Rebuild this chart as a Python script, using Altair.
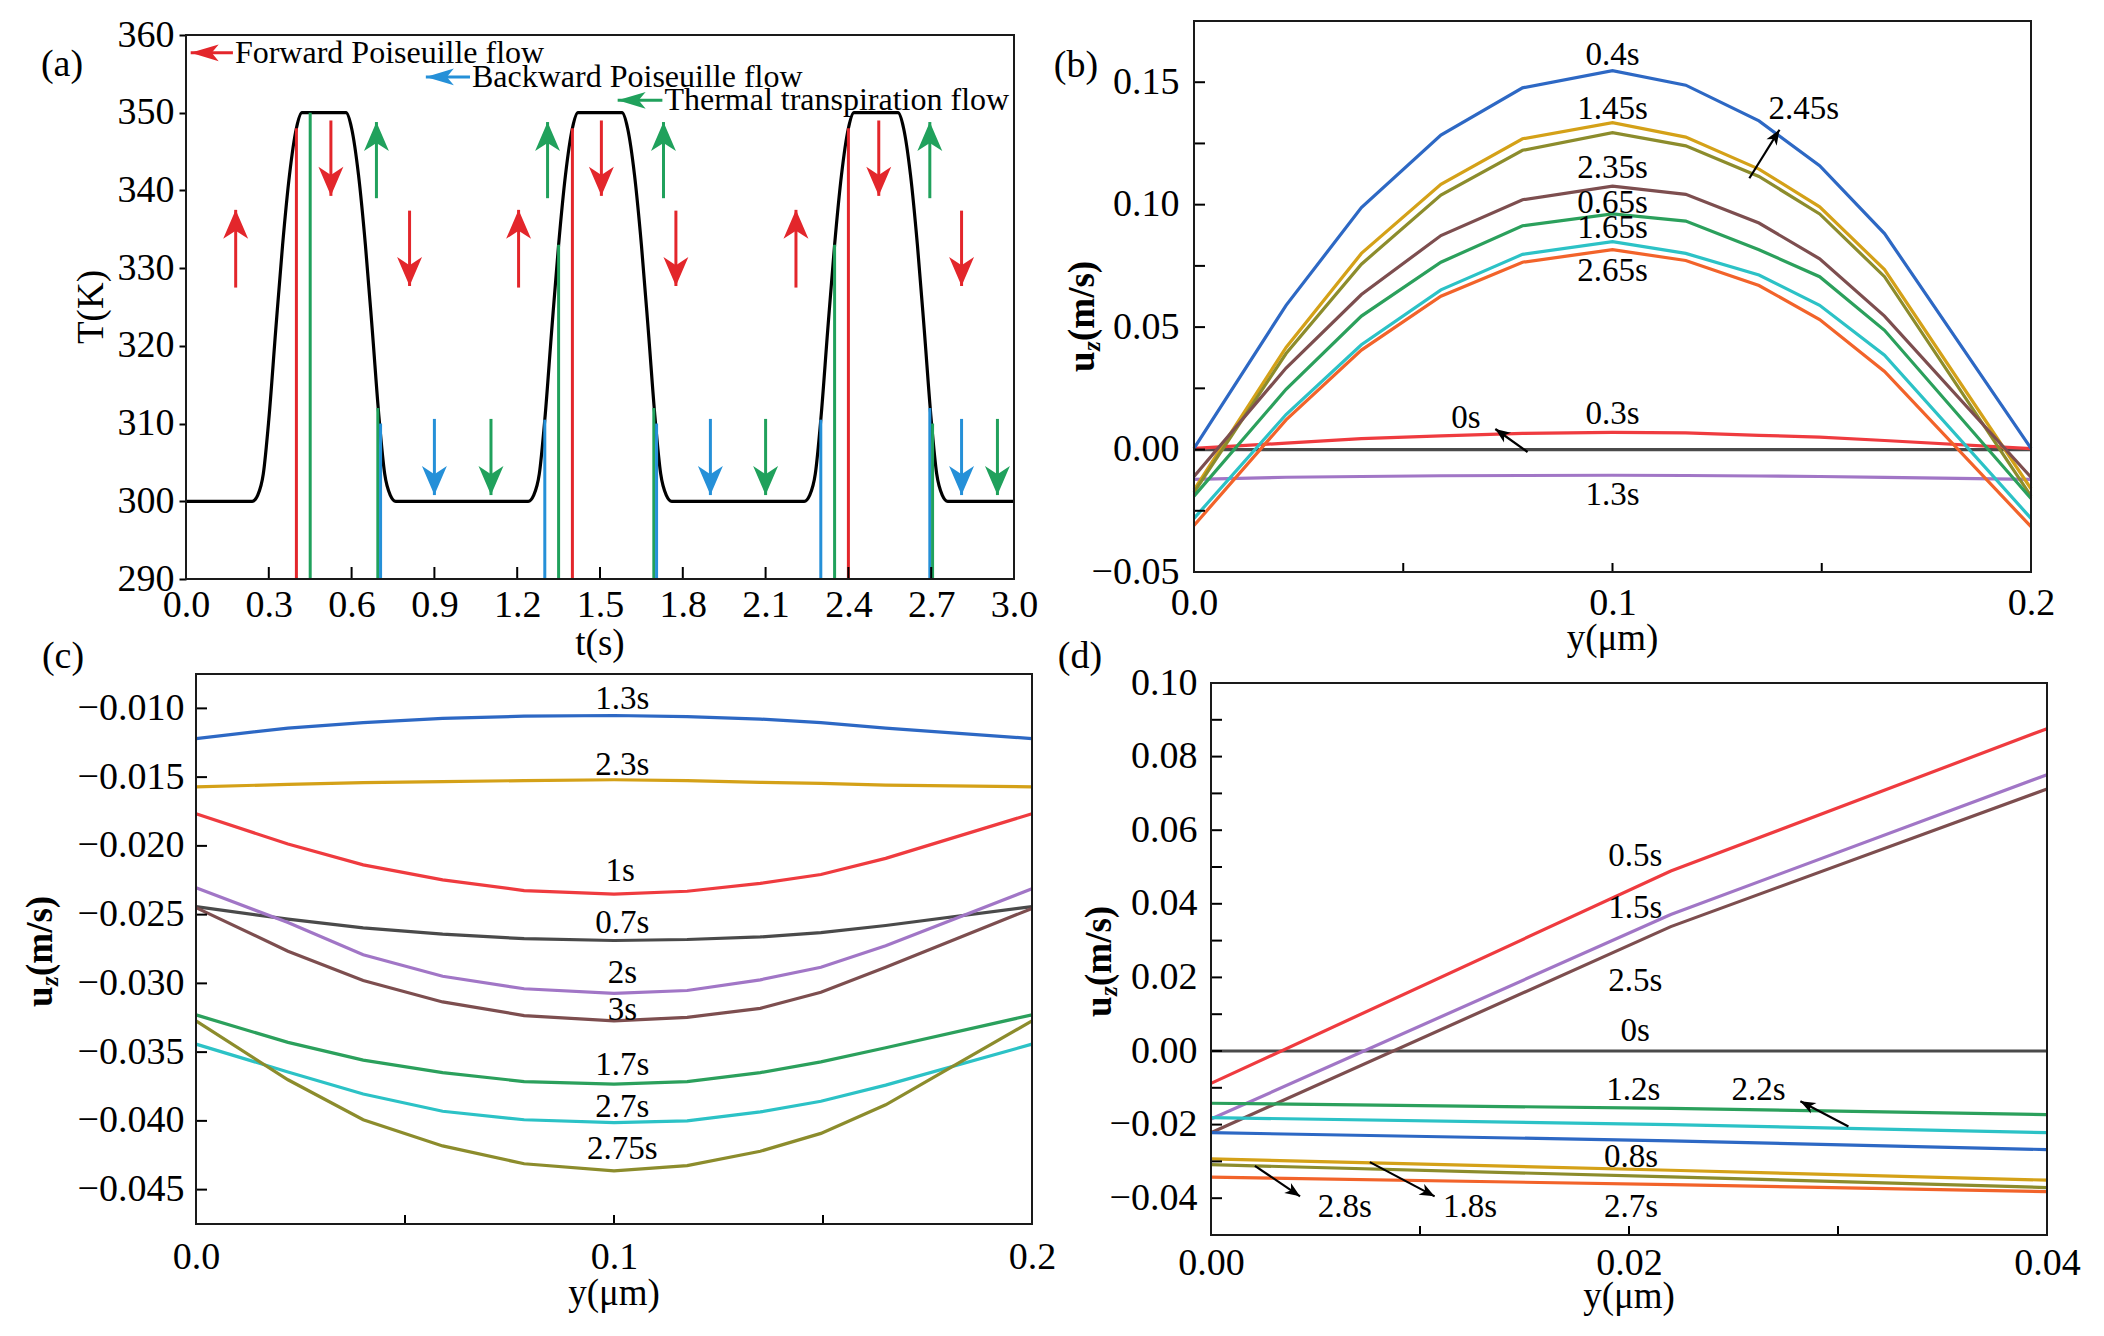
import math
import altair as alt
import pandas as pd

FONT = "Liberation Serif"
TICK_SIZE = 38
TITLE_SIZE = 37
LABEL_SIZE = 33
LEGEND_SIZE = 32

RED = "#e3262b"
BLUE = "#2590d8"
GREEN = "#20a15c"

C_BLACK = "#4a4a4a"
C_RED = "#ef3b3f"
C_BLUE = "#2d68c4"
C_GOLD = "#d4a118"
C_OLIVE = "#8c8c2c"
C_BROWN = "#7d4e4f"
C_GREEN = "#2ba05c"
C_CYAN = "#2cc2c6"
C_ORANGE = "#f2632a"
C_PURPLE = "#a176c6"

# ---------------- (a) wall temperature over three cycles ----------------
A_XTICKS = [0.0, 0.3, 0.6, 0.9, 1.2, 1.5, 1.8, 2.1, 2.4, 2.7, 3.0]
A_YTICKS = [290, 300, 310, 320, 330, 340, 350, 360]

T_TIME = [
    0.00, 0.24, 0.26, 0.28, 0.30, 0.325, 0.35, 0.375, 0.40, 0.42,
    0.58, 0.60, 0.625, 0.65, 0.675, 0.70, 0.72, 0.74, 0.76,
    1.24, 1.26, 1.28, 1.30, 1.325, 1.35, 1.375, 1.40, 1.42,
    1.58, 1.60, 1.625, 1.65, 1.675, 1.70, 1.72, 1.74, 1.76,
    2.24, 2.26, 2.28, 2.30, 2.325, 2.35, 2.375, 2.40, 2.42,
    2.58, 2.60, 2.625, 2.65, 2.675, 2.70, 2.72, 2.74, 2.76,
    3.00,
]
T_KELVIN = [
    300, 300, 300.8, 303.5, 310.5, 322, 333, 342, 348, 350,
    350, 348, 342, 333, 322, 310.5, 303.5, 300.8, 300,
    300, 300.8, 303.5, 310.5, 322, 333, 342, 348, 350,
    350, 348, 342, 333, 322, 310.5, 303.5, 300.8, 300,
    300, 300.8, 303.5, 310.5, 322, 333, 342, 348, 350,
    350, 348, 342, 333, 322, 310.5, 303.5, 300.8, 300,
    300,
]

# sampling instants marked by vertical lines
MARK_TIME = [0.40, 0.45, 0.695, 0.705, 1.30, 1.35, 1.40, 1.695, 1.705,
             2.30, 2.35, 2.40, 2.695, 2.705]
MARK_FLOW = ["forward", "thermal", "thermal", "backward", "backward", "thermal",
             "forward", "thermal", "backward", "backward", "thermal", "forward",
             "backward", "thermal"]
MARK_TOP = [348, 350, 312, 310, 310.5, 333, 348, 312, 310, 310.5, 333, 348, 312, 310]

# flow-direction arrows
ARROW_TIME = [0.18, 1.205, 2.21, 0.525, 1.505, 2.51, 0.81, 1.775, 2.81,
              0.69, 1.31, 1.73, 2.695, 0.90, 1.90, 2.81, 1.105, 2.10, 2.94]
ARROW_FLOW = ["forward", "forward", "forward", "forward", "forward", "forward",
              "forward", "forward", "forward", "thermal", "thermal", "thermal",
              "thermal", "backward", "backward", "backward", "thermal", "thermal",
              "thermal"]
ARROW_TAIL = [327.5, 327.5, 327.5, 349.0, 349.0, 349.0, 337.4, 337.4, 337.4,
              339.0, 339.0, 339.0, 339.0, 310.6, 310.6, 310.6, 310.6, 310.6, 310.6]
ARROW_TIP = [337.5, 337.5, 337.5, 339.3, 339.3, 339.3, 327.7, 327.7, 327.7,
             348.8, 348.8, 348.8, 348.8, 300.8, 300.8, 300.8, 300.8, 300.8, 300.8]

LEGEND_TEXT = ["Forward Poiseuille flow", "Backward Poiseuille flow",
               "Thermal transpiration flow"]
LEGEND_FLOW = ["forward", "backward", "thermal"]
LEGEND_TIP = [0.017, 0.869, 1.564]
LEGEND_TAIL = [0.17, 1.029, 1.726]
LEGEND_T = [357.7, 354.6, 351.6]

# ---------------- (b) velocity profiles, heating phases ----------------
B_NODES = [0.0, 0.022, 0.040, 0.059, 0.0785, 0.1, 0.1175, 0.135, 0.1495, 0.165, 0.2]
B_SERIES = ["0s", "0.3s", "1.3s", "0.4s", "1.45s", "2.45s", "2.35s", "0.65s", "1.65s", "2.65s"]
B_COLORS = [C_BLACK, C_RED, C_PURPLE, C_BLUE, C_GOLD, C_OLIVE, C_BROWN, C_GREEN, C_CYAN, C_ORANGE]
B_U_0S = [0.0, 0.0, 0.0, 0.0, 0.0, 0.0, 0.0, 0.0, 0.0, 0.0, 0.0]
B_U_03S = [0.0005, 0.0026, 0.0045, 0.0056, 0.0066, 0.0070, 0.0068, 0.0058, 0.0051, 0.0037, 0.0004]
B_U_13S = [-0.0122, -0.0113, -0.0110, -0.0107, -0.0106, -0.0105, -0.0106, -0.0108, -0.0110, -0.0114, -0.0122]
B_U_04S = [0.0005, 0.0589, 0.0988, 0.1284, 0.1477, 0.1547, 0.1488, 0.1342, 0.1159, 0.0882, 0.0005]
B_U_145S = [-0.0165, 0.0417, 0.0801, 0.1083, 0.1269, 0.1335, 0.1276, 0.1145, 0.0991, 0.0735, -0.0160]
B_U_245S = [-0.0175, 0.0392, 0.0757, 0.1039, 0.1222, 0.1294, 0.1240, 0.1115, 0.0962, 0.0706, -0.0190]
B_U_235S = [-0.0110, 0.0333, 0.0633, 0.0874, 0.1020, 0.1076, 0.1042, 0.0925, 0.0779, 0.0545, -0.0113]
B_U_065S = [-0.0190, 0.0246, 0.0545, 0.0765, 0.0914, 0.0962, 0.0933, 0.0816, 0.0706, 0.0487, -0.0200]
B_U_165S = [-0.0281, 0.0143, 0.0428, 0.0652, 0.0797, 0.0849, 0.0801, 0.0713, 0.0589, 0.0385, -0.0281]
B_U_265S = [-0.0310, 0.0121, 0.0406, 0.0626, 0.0765, 0.0816, 0.0772, 0.0670, 0.0531, 0.0319, -0.0315]
B_PROFILES = [B_U_0S, B_U_03S, B_U_13S, B_U_04S, B_U_145S, B_U_245S, B_U_235S, B_U_065S, B_U_165S, B_U_265S]

B_LABEL = ["0.4s", "1.45s", "2.45s", "2.35s", "0.65s", "1.65s", "2.65s", "0.3s", "0s", "1.3s"]
B_LABEL_X = [0.1, 0.1, 0.1457, 0.1, 0.1, 0.1, 0.1, 0.1, 0.065, 0.1]
B_LABEL_Y = [0.161, 0.139, 0.139, 0.115, 0.1007, 0.0905, 0.0729, 0.0144, 0.0127, -0.0184]
B_PTR_TAIL_X = [0.0797, 0.1327]
B_PTR_TAIL_Y = [-0.001, 0.1108]
B_PTR_TIP_X = [0.072, 0.1399]
B_PTR_TIP_Y = [0.0084, 0.1306]

# ---------------- (c) velocity profiles, cooling phases ----------------
C_NODES = [0.0, 0.022, 0.040, 0.059, 0.0785, 0.1, 0.1175, 0.135, 0.1495, 0.165, 0.2]
C_SERIES = ["0.7s", "1.3s", "2.3s", "1s", "2s", "3s", "1.7s", "2.7s", "2.75s"]
C_COLORS = [C_BLACK, C_BLUE, C_GOLD, C_RED, C_PURPLE, C_BROWN, C_GREEN, C_CYAN, C_OLIVE]
C_U_07S = [-0.02442, -0.02533, -0.02597, -0.02642, -0.02675, -0.02688, -0.02681, -0.02662, -0.02631, -0.02579, -0.02442]
C_U_13S = [-0.01220, -0.01143, -0.01104, -0.01073, -0.01057, -0.01052, -0.01060, -0.01078, -0.01104, -0.01143, -0.01220]
C_U_23S = [-0.01571, -0.01553, -0.01540, -0.01533, -0.01525, -0.01519, -0.01525, -0.01538, -0.01545, -0.01558, -0.01571]
C_U_1S = [-0.01766, -0.01987, -0.02138, -0.02247, -0.02325, -0.02351, -0.02330, -0.02273, -0.02208, -0.02091, -0.01766]
C_U_2S = [-0.02304, -0.02558, -0.02792, -0.02948, -0.03039, -0.03073, -0.03052, -0.02974, -0.02883, -0.02727, -0.02312]
C_U_3S = [-0.02449, -0.02766, -0.02979, -0.03135, -0.03234, -0.03273, -0.03247, -0.03182, -0.03065, -0.02883, -0.02455]
C_U_17S = [-0.03229, -0.03429, -0.03558, -0.03649, -0.03714, -0.03733, -0.03714, -0.03649, -0.03571, -0.03468, -0.03229]
C_U_27S = [-0.03442, -0.03644, -0.03805, -0.03930, -0.03992, -0.04013, -0.04000, -0.03935, -0.03857, -0.03740, -0.03442]
C_U_275S = [-0.03273, -0.03701, -0.03992, -0.04182, -0.04312, -0.04364, -0.04325, -0.04221, -0.04091, -0.03883, -0.03273]
C_PROFILES = [C_U_07S, C_U_13S, C_U_23S, C_U_1S, C_U_2S, C_U_3S, C_U_17S, C_U_27S, C_U_275S]

C_LABEL = ["1.3s", "2.3s", "1s", "0.7s", "2s", "3s", "1.7s", "2.7s", "2.75s"]
C_LABEL_X = [0.102, 0.102, 0.1015, 0.102, 0.102, 0.102, 0.102, 0.102, 0.102]
C_LABEL_Y = [-0.00935, -0.0141, -0.0218, -0.02558, -0.02922, -0.03195, -0.03597, -0.03896, -0.04208]

# ---------------- (d) near-wall velocity ----------------
D_NODES = [0.0, 0.022, 0.04]
D_SERIES = ["0s", "0.5s", "1.5s", "2.5s", "1.2s", "2.2s", "0.8s", "1.8s", "2.8s", "2.7s"]
D_COLORS = [C_BLACK, C_RED, C_PURPLE, C_BROWN, C_GREEN, C_CYAN, C_BLUE, C_GOLD, C_OLIVE, C_ORANGE]
D_U_0S = [0.0, 0.0, 0.0]
D_U_05S = [-0.0088, 0.0489, 0.0876]
D_U_15S = [-0.0185, 0.0371, 0.0751]
D_U_25S = [-0.0222, 0.0338, 0.0712]
D_U_12S = [-0.0142, -0.0156, -0.0173]
D_U_22S = [-0.0181, -0.0200, -0.0222]
D_U_08S = [-0.0222, -0.0244, -0.0268]
D_U_18S = [-0.0293, -0.0324, -0.0351]
D_U_28S = [-0.0309, -0.0342, -0.0371]
D_U_27S = [-0.0343, -0.0363, -0.0382]
D_PROFILES = [D_U_0S, D_U_05S, D_U_15S, D_U_25S, D_U_12S, D_U_22S, D_U_08S, D_U_18S, D_U_28S, D_U_27S]

D_LABEL = ["0.5s", "1.5s", "2.5s", "0s", "1.2s", "2.2s", "0.8s", "2.8s", "1.8s", "2.7s"]
D_LABEL_X = [0.0203, 0.0203, 0.0203, 0.0203, 0.0202, 0.0262, 0.0201, 0.0064, 0.0124, 0.0201]
D_LABEL_Y = [0.0531, 0.0388, 0.0190, 0.0053, -0.0105, -0.0105, -0.0289, -0.0425, -0.0425, -0.0425]
D_PTR_TAIL_X = [0.0305, 0.0021, 0.0076]
D_PTR_TAIL_Y = [-0.0205, -0.0312, -0.0302]
D_PTR_TIP_X = [0.0282, 0.00426, 0.0107]
D_PTR_TIP_Y = [-0.01366, -0.0395, -0.0395]

# ---------------- helpers ----------------
HEAD_BIG = "M0,0L0.43,1L0,0.72L-0.43,1Z"
HEAD_SLIM = "M0,0L0.3,1L0,0.75L-0.3,1Z"
HEAD_SMALL = "M0,0L0.4,1L0,0.72L-0.4,1Z"

ONE = pd.DataFrame({"k": [0]})


def axis(values, fmt, padding, **extra):
    return alt.Axis(values=values, format=fmt, title=None, labelPadding=padding,
                    labelFont=FONT, labelFontSize=TICK_SIZE, labelColor="black", **extra)


class Panel:
    """Scales, axes and pixel geometry of one plot box inside its view."""

    def __init__(self, dom_x, dom_y, view_w, view_h, box_x, box_y, ax_x, ax_y):
        self.dom_x, self.dom_y = dom_x, dom_y
        self.view_w, self.view_h = view_w, view_h
        self.left, self.right = box_x
        self.top, self.bottom = box_y
        self.sx = alt.Scale(domain=dom_x, range=[self.left, self.right], nice=False, zero=False)
        self.sy = alt.Scale(domain=dom_y, range=[self.bottom, self.top], nice=False, zero=False)
        self.ax_x, self.ax_y = ax_x, ax_y

    @property
    def w(self):
        return self.right - self.left

    @property
    def h(self):
        return self.bottom - self.top

    def X(self, field):
        return alt.X(field, scale=self.sx, axis=self.ax_x)

    def Y(self, field):
        return alt.Y(field, scale=self.sy, axis=self.ax_y)

    def frame(self):
        df = pd.DataFrame({"x0": [self.dom_x[0]], "x1": [self.dom_x[1]],
                           "y0": [self.dom_y[0]], "y1": [self.dom_y[1]]})
        return alt.Chart(df).mark_rect(filled=False, stroke="#1a1a1a", strokeWidth=2).encode(
            x=self.X("x0:Q"), x2="x1:Q", y=self.Y("y0:Q"), y2="y1:Q")

    def note(self, text, x, y, size, angle=0, align="center", weight="normal", style="normal", dx=0, dy=0):
        # x, y are pixels measured from the plot box's top-left corner
        return alt.Chart(ONE).mark_text(
            text=text, font=FONT, fontSize=size, angle=angle, align=align, baseline="middle",
            fontWeight=weight, fontStyle=style, dx=dx, dy=dy, color="black",
        ).encode(x=alt.value(self.left + x), y=alt.value(self.top + y))

    def spacer(self, left, top, right, bottom):
        # invisible diagonal that fixes the layout box of the view
        return alt.Chart(ONE).mark_rule(opacity=0, strokeWidth=0, color="white").encode(
            x=alt.value(left), x2=alt.value(right), y=alt.value(top), y2=alt.value(bottom))

    def xticks(self, vals, length=10):
        return alt.Chart(pd.DataFrame({"v": vals})).mark_rule(color="black", strokeWidth=2).encode(
            x=self.X("v:Q"), y=alt.value(self.bottom), y2=alt.value(self.bottom - length))

    def yticks(self, vals, length=11):
        return alt.Chart(pd.DataFrame({"v": vals})).mark_rule(color="black", strokeWidth=2).encode(
            y=self.Y("v:Q"), x=alt.value(self.left), x2=alt.value(self.left + length))

    def uz_title(self, xc, y_bottom):
        return [
            self.note("u", xc, y_bottom, TITLE_SIZE, angle=270, align="left", weight="bold"),
            self.note("z", xc, y_bottom, 25, angle=270, align="left", weight="bold", style="italic", dx=21, dy=9),
            self.note("(m/s)", xc, y_bottom, TITLE_SIZE, angle=270, align="left", weight="bold", dx=31),
        ]

    def pointers(self, tail_x, tail_y, tip_x, tip_y):
        angles = []
        for tx, ty, hx, hy in zip(tail_x, tail_y, tip_x, tip_y):
            dx = (tx - hx) / (self.dom_x[1] - self.dom_x[0]) * self.w
            dy = -(ty - hy) / (self.dom_y[1] - self.dom_y[0]) * self.h
            angles.append(math.degrees(math.atan2(-dx, dy)) % 360)
        df = pd.DataFrame({"x0": tail_x, "y0": tail_y, "x1": tip_x, "y1": tip_y, "ang": angles})
        shaft = alt.Chart(df).mark_rule(color="black", strokeWidth=2.2).encode(
            x=self.X("x0:Q"), y=self.Y("y0:Q"), x2="x1:Q", y2="y1:Q")
        head = alt.Chart(df).mark_point(shape=HEAD_SMALL, size=900, filled=True, opacity=1,
                                        color="black", strokeWidth=0).encode(
            x=self.X("x1:Q"), y=self.Y("y1:Q"), angle=alt.Angle("ang:Q", scale=None))
        return [shaft, head]

    def profiles(self, nodes, names, profiles, colors):
        rows = []
        for name, prof in zip(names, profiles):
            for yv, uv in zip(nodes, prof):
                rows.append({"y": yv, "u": uv, "series": name})
        return alt.Chart(pd.DataFrame(rows)).mark_line(strokeWidth=3.2).encode(
            x=self.X("y:Q"), y=self.Y("u:Q"),
            color=alt.Color("series:N", scale=alt.Scale(domain=names, range=colors), legend=None),
        )

    def labels(self, labels, xs, ys):
        df = pd.DataFrame({"x": xs, "y": ys, "label": labels})
        return alt.Chart(df).mark_text(font=FONT, fontSize=LABEL_SIZE, color="black",
                                       align="center", baseline="middle").encode(
            x=self.X("x:Q"), y=self.Y("y:Q"), text="label:N")


# ---------------- panel (a) ----------------
pa = Panel(
    [0, 3], [290, 360], 828, 558, (0, 828), (14, 558),
    axis(A_XTICKS, ".1f", 7),
    axis(A_YTICKS, "d", 5, ticks=True, tickSize=7, tickWidth=2, tickColor="black"),
)
flow_color = alt.Color("flow:N", scale=alt.Scale(domain=["forward", "backward", "thermal"],
                                                 range=[RED, BLUE, GREEN]), legend=None)

a_curve = alt.Chart(pd.DataFrame({"t": T_TIME, "T": T_KELVIN})).mark_line(
    color="black", strokeWidth=3.2, interpolate="monotone").encode(x=pa.X("t:Q"), y=pa.Y("T:Q"))

df_marks = pd.DataFrame({"t": MARK_TIME, "flow": MARK_FLOW, "top": MARK_TOP,
                         "base": [pa.dom_y[0]] * len(MARK_TIME)})
a_marks = alt.Chart(df_marks).mark_rule(strokeWidth=3).encode(
    x=pa.X("t:Q"), y=pa.Y("base:Q"), y2="top:Q", color=flow_color)

df_arrows = pd.DataFrame({"t": ARROW_TIME, "flow": ARROW_FLOW, "tail": ARROW_TAIL, "tip": ARROW_TIP})
df_arrows["ang"] = [0 if tp > tl else 180 for tp, tl in zip(ARROW_TIP, ARROW_TAIL)]
a_shafts = alt.Chart(df_arrows).mark_rule(strokeWidth=3).encode(
    x=pa.X("t:Q"), y=pa.Y("tail:Q"), y2="tip:Q", color=flow_color)
a_heads = alt.Chart(df_arrows).mark_point(shape=HEAD_BIG, size=3364, filled=True, opacity=1,
                                          strokeWidth=0).encode(
    x=pa.X("t:Q"), y=pa.Y("tip:Q"), angle=alt.Angle("ang:Q", scale=None), color=flow_color)

df_leg = pd.DataFrame({"text": LEGEND_TEXT, "flow": LEGEND_FLOW, "tip": LEGEND_TIP,
                       "tail": LEGEND_TAIL, "T": LEGEND_T})
a_leg_shaft = alt.Chart(df_leg).mark_rule(strokeWidth=3).encode(
    x=pa.X("tip:Q"), x2="tail:Q", y=pa.Y("T:Q"), color=flow_color)
a_leg_head = alt.Chart(df_leg).mark_point(shape=HEAD_SLIM, size=3136, filled=True, opacity=1,
                                          strokeWidth=0, angle=270).encode(
    x=pa.X("tip:Q"), y=pa.Y("T:Q"), color=flow_color)
a_leg_text = alt.Chart(df_leg).mark_text(font=FONT, fontSize=LEGEND_SIZE, color="black",
                                         align="left", baseline="middle", dx=2).encode(
    x=pa.X("tail:Q"), y=pa.Y("T:Q"), text="text:N")

panel_a = alt.layer(
    a_curve, a_marks, a_shafts, a_heads, a_leg_shaft, a_leg_head, a_leg_text,
    pa.xticks(A_XTICKS[1:-1], 12),
    pa.frame(),
    pa.note("(a)", -124, 30, 38),
    pa.note("T(K)", -94, pa.h / 2, TITLE_SIZE, angle=270),
    pa.note("t(s)", pa.w / 2, pa.h + 65, TITLE_SIZE),
    pa.spacer(-168, -6, 860, 644),
).properties(width=pa.view_w, height=pa.view_h)

# ---------------- panel (b) ----------------
pb = Panel(
    [0, 0.2], [-0.05, 0.175], 837, 551, (0, 837), (0, 551),
    axis([0.0, 0.1, 0.2], ".1f", 12),
    axis([-0.05, 0.0, 0.05, 0.10, 0.15], ".2f", 15),
)
panel_b = alt.layer(
    pb.profiles(B_NODES, B_SERIES, B_PROFILES, B_COLORS),
    pb.xticks([0.05, 0.1, 0.15], 9),
    pb.yticks([-0.025, 0.0, 0.025, 0.05, 0.075, 0.1, 0.125, 0.15]),
    *pb.pointers(B_PTR_TAIL_X, B_PTR_TAIL_Y, B_PTR_TIP_X, B_PTR_TIP_Y),
    pb.labels(B_LABEL, B_LABEL_X, B_LABEL_Y),
    pb.frame(),
    pb.note("(b)", -118, 45, 38),
    *pb.uz_title(-111, 351),
    pb.note("y(μm)", pb.w / 2, pb.h + 67, TITLE_SIZE),
    pb.spacer(-144, -6, 864, 644),
).properties(width=pb.view_w, height=pb.view_h)

# ---------------- panel (c) ----------------
C_YTICKS = [-0.045, -0.040, -0.035, -0.030, -0.025, -0.020, -0.015, -0.010]
pc = Panel(
    [0, 0.2], [-0.0475, -0.0075], 846, 550, (10, 846), (0, 550),
    axis([0.0, 0.1, 0.2], ".1f", 14),
    axis(C_YTICKS, ".3f", 2),
)
panel_c = alt.layer(
    pc.profiles(C_NODES, C_SERIES, C_PROFILES, C_COLORS),
    pc.xticks([0.05, 0.1, 0.15], 9),
    pc.yticks(C_YTICKS),
    pc.labels(C_LABEL, C_LABEL_X, C_LABEL_Y),
    pc.frame(),
    pc.note("(c)", -133, -17, 38),
    *pc.uz_title(-155, 333),
    pc.note("y(μm)", pc.w / 2, pc.h + 70, TITLE_SIZE),
    pc.spacer(-168, -38, 872, 644),
).properties(width=pc.view_w, height=pc.view_h)

# ---------------- panel (d) ----------------
pd_ = Panel(
    [0, 0.04], [-0.05, 0.10], 836, 561, (0, 836), (9, 561),
    axis([0.0, 0.02, 0.04], ".2f", 9),
    axis([-0.04, -0.02, 0.0, 0.02, 0.04, 0.06, 0.08, 0.10], ".2f", 14),
)
panel_d = alt.layer(
    pd_.profiles(D_NODES, D_SERIES, D_PROFILES, D_COLORS),
    pd_.xticks([0.01, 0.02, 0.03], 9),
    pd_.yticks([-0.04, -0.03, -0.02, -0.01, 0.0, 0.01, 0.02, 0.03, 0.04, 0.05, 0.06, 0.07, 0.08, 0.09]),
    *pd_.pointers(D_PTR_TAIL_X, D_PTR_TAIL_Y, D_PTR_TIP_X, D_PTR_TIP_Y),
    pd_.labels(D_LABEL, D_LABEL_X, D_LABEL_Y),
    pd_.frame(),
    pd_.note("(d)", -131, -26, 38),
    *pd_.uz_title(-111, 334),
    pd_.note("y(μm)", pd_.w / 2, pd_.h + 62, TITLE_SIZE),
    pd_.spacer(-155, -38, 871, 644),
).properties(width=pd_.view_w, height=pd_.view_h)

row1 = alt.hconcat(panel_a, panel_b, spacing=4).resolve_scale(color="independent")
row2 = alt.hconcat(panel_c, panel_d, spacing=-2).resolve_scale(color="independent")

chart = alt.vconcat(row1, row2, spacing=-29).resolve_scale(color="independent").properties(
    padding={"left": 18, "top": 15, "right": 10, "bottom": 10},
    background="white",
).configure_view(
    stroke=None,
).configure_axis(
    labelFont=FONT, labelFontSize=TICK_SIZE, labelColor="black",
    domain=False, ticks=False, grid=False, labelFlush=False, labelOverlap=False,
)

chart.save("out.html", embed_options={"renderer": "svg", "actions": False})
